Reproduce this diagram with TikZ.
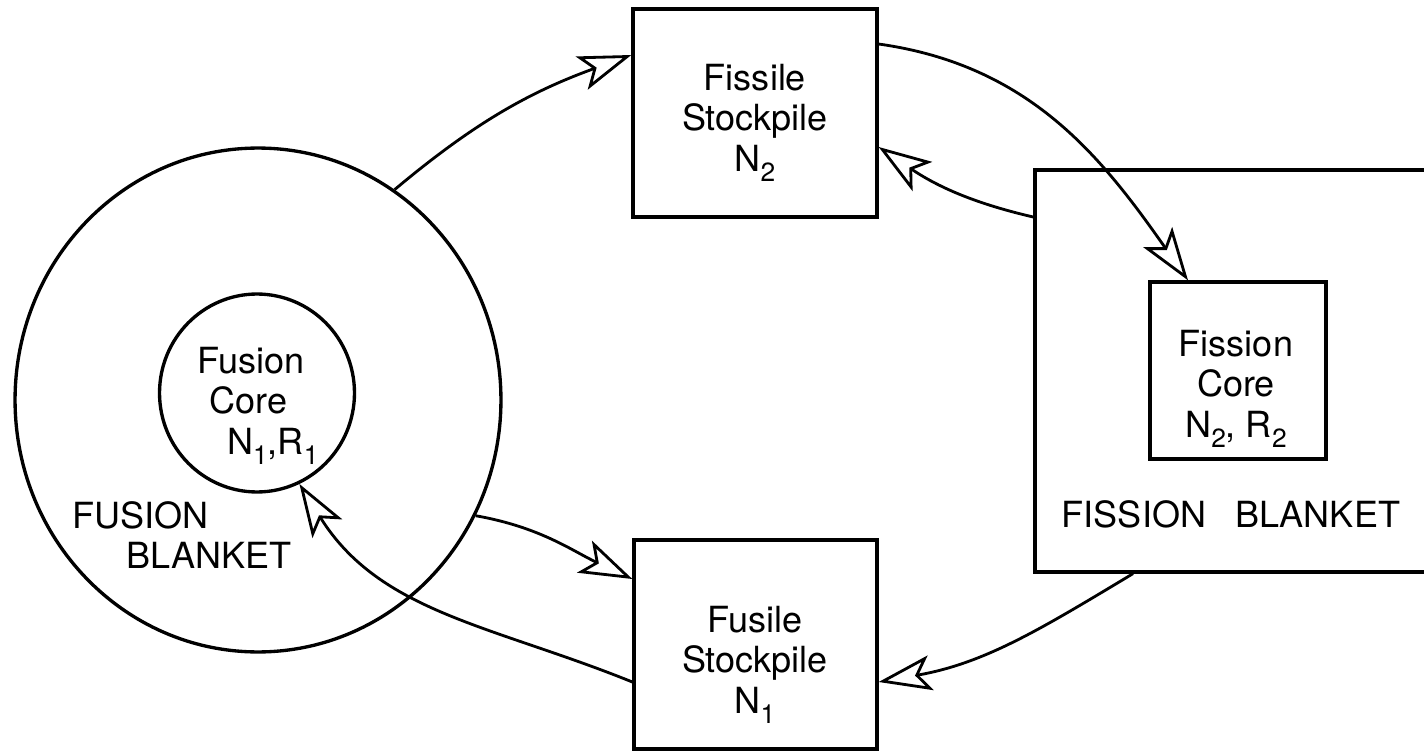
\documentclass[tikz,border=0pt]{standalone}
\usepackage{fontspec}
\setmainfont{TeX Gyre Heros}
\usetikzlibrary{arrows.meta,shapes.geometric}
% lowered index in the lettering style (N_1, R_2, ...)
\newcommand\lowidx[2][-6pt]{\raisebox{#1}{\fontsize{15}{15}\selectfont #2}}
\begin{document}
\begin{tikzpicture}[x=0.02cm, y=0.02cm,
  every node/.style={inner sep=0pt},
  unit/.style={draw, line width=1.9pt},
  boxnode/.style={unit, rectangle},
  roundnode/.style={unit, ellipse},
  caption/.style={font=\fontsize{20.5}{23}\selectfont, align=center},
  flow/.style={line width=1.6pt, -{Stealth[open, length=30pt, width=20pt, inset=7pt]}}]
\useasboundingbox (0,0) rectangle (1424,752);
\clip (0,0) rectangle (1424,752);

% fusion side: blanket and core
\node[roundnode, minimum width=9.72cm, minimum height=10.08cm] (fusionblanket) at (258,352) {};
\node[roundnode, minimum width=3.90cm, minimum height=3.96cm] (fusioncore) at (257,359) {};

% stockpiles
\node[boxnode, minimum width=4.88cm, minimum height=4.16cm] (fissile) at (755,639) {};
\node[boxnode, minimum width=4.86cm, minimum height=4.18cm] (fusile) at (755.5,107.5) {};

% fission side: blanket (runs past the right edge) and core
\node[boxnode, minimum width=9.30cm, minimum height=8.04cm] (fissionblanket) at (1267.5,381) {};
\node[boxnode, minimum width=3.52cm, minimum height=3.54cm] (fissioncore) at (1238,381.5) {};

% labels
\node[caption] (fissiletext) at (755,629) {Fissile\\Stockpile\\N\lowidx{2}};
\node[caption] (fusiletext) at (755,87) {Fusile\\Stockpile\\N\lowidx{1}};
\node[caption] (fissioncoretext) at (1236,363) {Fission\\Core\\N\lowidx{2}, R\lowidx{2}};
\node[caption, align=left, anchor=west] (fusioncoretext) at (197,346)
  {Fusion\\\hspace*{7pt}Core\\\hspace*{17pt}N\lowidx{1},R\lowidx{1}};
\node[caption, align=left, anchor=west] (fusionblankettext) at (72,217)
  {FUSION\\\hspace*{31pt}BLANKET};
\node[caption] (fissionblankettext) at (1231,238) {FISSION\hspace{11pt} BLANKET};

% material flows
\draw[flow] (fusionblanket.57) to[out=40, in=200] ([yshift=1.16cm]fissile.west);
\draw[flow] ([yshift=1.38cm]fissile.east) to[out=-8, in=125] ([xshift=-1.0cm]fissioncore.north);
\draw[flow] ([yshift=3.08cm]fissionblanket.west) to[out=167, in=-34] ([yshift=-0.68cm]fissile.east);
\draw[flow] (fusionblanket.-28) to[out=-10, in=155] ([yshift=1.31cm]fusile.west);
\draw[flow] ([yshift=-0.75cm]fusile.west) to[out=158, in=-58] (fusioncore.-65);
\draw[flow] ([xshift=-2.69cm]fissionblanket.south) to[out=211, in=10] ([yshift=-0.75cm]fusile.east);
\end{tikzpicture}
\end{document}
